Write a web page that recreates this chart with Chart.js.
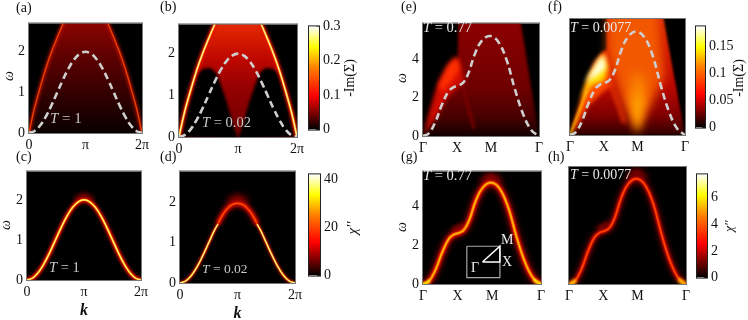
<!DOCTYPE html>
<html>
<head>
<meta charset="utf-8">
<style>
  html, body { margin: 0; padding: 0; background: #fff; }
  #page { position: relative; width: 748px; height: 320px; overflow: hidden; font-family: "Liberation Serif", serif; }
  canvas { position: absolute; }
  .note { position: absolute; white-space: nowrap; line-height: 1; }
</style>
<script src="https://cdn.jsdelivr.net/npm/chart.js@4"></script>
</head>
<body>
<div id="page"></div>
<script>
// Axis ticks
const kTicks = [0, 1, 2];
const kLabels = ["0", "π", "2π"];
const pathTicks = [0, 1, 2, 3.414];
const pathLabels = ["Γ", "X", "M", "Γ"];
const omegaTicksLeft = [0, 1, 2];
const omegaTicksRight = [0, 2, 4];
const barTicksB = [0, 0.1, 0.2, 0.3];
const barTicksD = [0, 20, 40];
const barTicksF = [0, 0.05, 0.1, 0.15];
const barTicksH = [0, 2, 4, 6];

// Dispersion curves
const band1d = [[0,0],[.1,.05],[.2,.19],[.3,.41],[.4,.69],[.5,1],[.6,1.31],[.7,1.59],[.8,1.81],[.9,1.95],[1,2],[1.1,1.95],[1.2,1.81],[1.3,1.59],[1.4,1.31],[1.5,1],[1.6,.69],[1.7,.41],[1.8,.19],[1.9,.05],[2,0]];
const band2d = [[0,0],[.166,.13],[.36,.72],[.556,1.63],[.75,2.33],[.9,2.55],[1.04,2.63],[1.19,2.8],[1.34,3.3],[1.53,4.3],[1.73,4.97],[1.97,5.22],[2.21,4.93],[2.46,3.97],[2.7,2.47],[2.95,1.13],[3.19,.3],[3.414,0]];

// Panel (a), (b): continuum edges
const edgeLeft = [[0,0],[.05,.33],[.1,.63],[.187,1.07],[.3,1.6],[.4,2],[.5,2.35],[.62,2.75]];
const edgeRight = [[2,0],[1.95,.33],[1.9,.63],[1.813,1.07],[1.7,1.6],[1.6,2],[1.5,2.35],[1.38,2.75]];
const coneHull = [[0,0],[.05,.33],[.1,.63],[.187,1.07],[.3,1.6],[.4,2],[.5,2.35],[.62,2.75],[1.38,2.75],[1.5,2.35],[1.6,2],[1.7,1.6],[1.813,1.07],[1.9,.63],[1.95,.33],[2,0]];
const lobeLeftB = [[0,0],[.187,1.07],[.3,1.5],[.4,1.63],[.53,1.66],[.62,1.55],[.67,1.41],[.81,.84],[.93,.23],[1,-.05]];
const lobeRightB = [[2,0],[1.813,1.07],[1.7,1.5],[1.6,1.63],[1.47,1.66],[1.38,1.55],[1.33,1.41],[1.19,.84],[1.07,.23],[1,-.05]];

// Panel (d): the sharp parts and the broad top of the mode
const lowLeftD = [[0,0],[.1,.05],[.2,.19],[.3,.41],[.4,.69],[.5,1],[.6,1.31],[.66,1.46]];
const lowRightD = [[2,0],[1.9,.05],[1.8,.19],[1.7,.41],[1.6,.69],[1.5,1],[1.4,1.31],[1.34,1.46]];
const archD = [[.66,1.46],[.7,1.59],[.8,1.81],[.9,1.94],[1,1.98],[1.1,1.94],[1.2,1.81],[1.3,1.59],[1.34,1.46]];
const topGlow1d = [[.85,1.95],[1,2.08],[1.15,1.95]];

// Panel (e) regions
const hullE = [[0,0],[.42,2.5],[.8,3.6],[1.02,4.05],[1.05,6],[2.87,6],[3.414,0]];
const lobeE = [[0,0],[.25,1.6],[.45,2.8],[.7,3.6],[.9,4.05],[1,4.15],[1.12,3.5],[1.22,2.9],[1,2.5],[.7,2],[.4,1]];
const coreE = [[.46,2.63],[.75,3.72],[1,4.1],[1.09,3.47],[.8,2.8],[.56,2.3]];
const streakE = [[1.15,2.7],[1.3,1.7],[1.5,.4]];

// Panel (f) regions
const hullF = [[0,0],[.3,1.5],[.6,3],[.9,4],[1.08,4.3],[1.09,6],[2.76,6],[3.414,0]];
const domeF = [[1.12,4.2],[1.12,6.2],[2.6,6.2],[2.8,3],[2.4,1.5],[2,.2],[1.6,1.5],[1.3,3]];
const valleyF = [[2,.05],[1.76,1.7],[1.78,3.2],[2.24,3.2],[2.24,1.7]];
const lobeF = [[0,0],[.42,2.35],[.72,3.65],[1.03,4.3],[1.2,3.3],[1.25,2.5],[1,2.2],[.55,1.5],[.2,.4]];
const yellowF = [[.2,1.1],[.55,2.95],[.98,4.1],[1.11,3.43],[1.03,2.76],[.64,2.5],[.34,1.76]];
const whiteF = [[.44,2.6],[.84,3.77],[1.01,4.02],[1.05,3.35],[.79,3],[.54,2.76]];
const streakF = [[1.13,2.8],[1.4,1.7],[1.62,.6]];
const rimF = [[0,0],[.25,1.1],[.5,2.25]];

// Panel (g) inset: box and Brillouin zone path
const insetBox = [[1.268,1.945],[2.225,1.945],[2.225,.327],[1.268,.327],[1.268,1.945]];
const insetPath = [[1.72,1.136],[2.225,1.136],[2.225,1.945],[1.72,1.136]];

// Ends of the band in (g), (h)
const endLeft = [[0,0],[.1,.05],[.2,.2]];
const endRight = [[3.414,0],[3.3,.08],[3.2,.25]];
const topGlow2d = [[1.75,5.1],[1.97,5.5],[2.2,5.1]];
const shoulder = [[.85,2.7],[1.04,2.85],[1.2,3]];

const hot = [[0,"#000"],[.33,"#f00"],[.6,"#ff8000"],[.8,"#ff0"],[1,"#fff"]];

const page = document.getElementById("page");

Chart.defaults.animation = false;
Chart.defaults.font.family = '"Liberation Serif", serif';
Chart.defaults.font.size = 14;
Chart.defaults.color = "#111";

// blur for single layers, has to sit before the filler so fills get it too
const blurLayer = {
  id: "blurLayer",
  beforeDatasetDraw(chart, args) {
    const b = chart.data.datasets[args.index].blur;
    if (b) chart.ctx.filter = `blur(${b}px)`;
  },
  afterDatasetDraw(chart) {
    chart.ctx.filter = "none";
  },
};
Chart.unregister(Chart.Filler);
Chart.register(blurLayer, Chart.Filler);

const heatFrame = {
  id: "heatFrame",
  beforeDatasetsDraw(chart) {
    const { left, top, width, height } = chart.chartArea;
    chart.ctx.fillStyle = "#000";
    chart.ctx.fillRect(left, top, width, height);
  },
  afterDraw(chart) {
    const { left, top, width, height } = chart.chartArea;
    chart.ctx.strokeStyle = "#777";
    chart.ctx.lineWidth = 1;
    chart.ctx.strokeRect(left - 0.5, top - 0.5, width + 1, height + 1);
  },
};

function vGrad(stops) {
  return (c) => {
    const chart = c.chart;
    if (!chart.chartArea) return stops[0][1];
    const y = chart.scales.y;
    const g = chart.ctx.createLinearGradient(0, y.getPixelForValue(0), 0, y.getPixelForValue(y.max));
    stops.forEach(([v, col]) => g.addColorStop(Math.min(v / y.max, 1), col));
    return g;
  };
}

function area(pts, color, blur) {
  return { data: pts.map(([x, y]) => ({ x, y })), fill: "shape", backgroundColor: color, borderWidth: 0, blur: blur || 0 };
}
function line(pts, color, width, blur, tension) {
  return { data: pts.map(([x, y]) => ({ x, y })), fill: false, borderColor: color, borderWidth: width, blur: blur || 0, tension: tension === undefined ? 0.4 : tension };
}
function dashed(pts) {
  return { data: pts.map(([x, y]) => ({ x, y })), fill: false, borderColor: "#cfcfcf", borderWidth: 2.6, borderDash: [7, 4], tension: 0.4 };
}

function addCanvas(l, t, w, h) {
  const c = document.createElement("canvas");
  c.width = w;
  c.height = h;
  c.style.left = l + "px";
  c.style.top = t + "px";
  c.style.width = w + "px";
  c.style.height = h + "px";
  page.appendChild(c);
  return c;
}

function fixedTicks(values, labels) {
  return {
    afterBuildTicks(s) { s.ticks = values.map((v) => ({ value: v })); },
    ticks: {
      autoSkip: false, maxRotation: 0, minRotation: 0,
      callback: (v) => (labels ? labels[values.indexOf(v)] : String(v)),
    },
  };
}

// rect = plot area in page pixels
function heatPanel(rect, o) {
  const [l, t, r, b] = rect.map(Math.round);
  const mLeft = 24, mRight = 16, mTop = 8, mBottom = o.xTitle ? 40 : 26;
  const canvas = addCanvas(l - mLeft, t - mTop, r - l + mLeft + mRight, b - t + mTop + mBottom);
  const xt = fixedTicks(o.xTicks, o.xLabels);
  const yt = fixedTicks(o.yTicks);
  const n = o.layers.length;
  new Chart(canvas, {
    type: "scatter",
    data: {
      datasets: o.layers.map((d, i) => ({ showLine: true, pointRadius: 0, order: n - i, ...d })),
    },
    options: {
      responsive: false,
      layout: { padding: { top: mTop, right: mRight, left: 0, bottom: 0 } },
      plugins: { legend: { display: false }, tooltip: { enabled: false } },
      scales: {
        x: {
          type: "linear", min: 0, max: o.xMax,
          grid: { display: false, drawTicks: false }, border: { display: false },
          title: o.xTitle ? { display: true, text: o.xTitle, padding: 0, font: { size: 16, style: "italic", weight: "bold" } } : { display: false },
          afterFit(s) { s.height = mBottom; },
          afterBuildTicks: xt.afterBuildTicks,
          ticks: { ...xt.ticks, padding: 4 },
        },
        y: {
          type: "linear", min: 0, max: o.yMax,
          grid: { display: false, drawTicks: false }, border: { display: false },
          afterFit(s) { s.width = mLeft; },
          afterBuildTicks: yt.afterBuildTicks,
          ticks: { ...yt.ticks, padding: 4 },
        },
      },
    },
    plugins: [heatFrame],
  });
}

function colorBar(rect, max, values) {
  const [l, t, r, b] = rect.map(Math.round);
  const mRight = 34, mTop = 8, mBottom = 8;
  const canvas = addCanvas(l, t - mTop, r - l + mRight, b - t + mTop + mBottom);
  const yt = fixedTicks(values);
  new Chart(canvas, {
    type: "bar",
    data: {
      labels: [""],
      datasets: [{
        data: [max], barPercentage: 1, categoryPercentage: 1,
        backgroundColor: (c) => {
          const ch = c.chart;
          if (!ch.chartArea) return "#000";
          const g = ch.ctx.createLinearGradient(0, ch.chartArea.bottom, 0, ch.chartArea.top);
          hot.forEach(([p, col]) => g.addColorStop(p, col));
          return g;
        },
      }],
    },
    options: {
      responsive: false,
      layout: { padding: { top: mTop, bottom: mBottom, left: 1, right: 0 } },
      plugins: { legend: { display: false }, tooltip: { enabled: false } },
      scales: {
        x: { display: false },
        y: {
          position: "right", min: 0, max: max,
          grid: { drawOnChartArea: false, drawTicks: true, tickLength: -3, color: "#222" },
          border: { display: false },
          afterFit(s) { s.width = mRight; },
          afterBuildTicks: yt.afterBuildTicks,
          ticks: { ...yt.ticks, padding: 7 },
        },
      },
    },
    plugins: [{
      id: "barFrame",
      afterDraw(chart) {
        const a = chart.chartArea;
        chart.ctx.strokeStyle = "#222";
        chart.ctx.lineWidth = 1;
        chart.ctx.strokeRect(a.left - 0.5, a.top - 0.5, a.width + 1, a.height + 1);
      },
    }],
  });
}

function note(html, x, y, size, color) {
  const d = document.createElement("div");
  d.className = "note";
  d.innerHTML = html;
  d.style.left = x + "px";
  d.style.top = y - size / 2 + "px";
  d.style.fontSize = size + "px";
  d.style.color = color || "#111";
  page.appendChild(d);
}

// axis titles that read bottom to top, x and y are the centre
function sideTitle(html, x, y, size) {
  const d = document.createElement("div");
  d.className = "note";
  d.innerHTML = html;
  d.style.left = x + "px";
  d.style.top = y + "px";
  d.style.fontSize = size + "px";
  d.style.color = "#111";
  d.style.transform = "translate(-50%, -50%) rotate(-90deg)";
  page.appendChild(d);
}

heatPanel([28.5, 19, 142, 133], {
  xMax: 2, yMax: 2.7, xTicks: kTicks, xLabels: kLabels, yTicks: omegaTicksLeft,
  layers: [
    area(coneHull, vGrad([[0,"#0a0000"],[.8,"#2c0000"],[1.8,"#5a0000"],[2.7,"#8a0500"]]), 0.8),
    line(edgeLeft, "rgba(200,20,0,.75)", 4, 1.5),
    line(edgeRight, "rgba(200,20,0,.75)", 4, 1.5),
    line(edgeLeft, "#f04000", 1.3, 0.4),
    line(edgeRight, "#f04000", 1.3, 0.4),
    dashed(band1d),
  ],
});

heatPanel([179, 20, 296.7, 136.7], {
  xMax: 2, yMax: 2.7, xTicks: kTicks, xLabels: kLabels, yTicks: omegaTicksLeft,
  layers: [
    area(coneHull, vGrad([[0,"#6e0000"],[1.2,"#960000"],[1.9,"#c00800"],[2.7,"#e42800"]]), 0.6),
    area(lobeLeftB, "#000", 1.5),
    area(lobeRightB, "#000", 1.5),
    line(edgeLeft, "#e81000", 4.5, 1.6),
    line(edgeRight, "#e81000", 4.5, 1.6),
    line(edgeLeft, "#ffb000", 2.2, 0.7),
    line(edgeRight, "#ffb000", 2.2, 0.7),
    line(edgeLeft, "#fffde0", 0.9, 0.3),
    line(edgeRight, "#fffde0", 0.9, 0.3),
    dashed(band1d),
  ],
});

heatPanel([27, 167, 141, 280], {
  xMax: 2, yMax: 2.71, xTicks: kTicks, xLabels: kLabels, yTicks: omegaTicksLeft, xTitle: "k",
  layers: [
    line(topGlow1d, "#8a0000", 7, 2.5),
    line(band1d, "#7a0000", 5.5, 1.5),
    line(band1d, "#f01000", 3.6, 0.8),
    line(band1d, "#ffc000", 2, 0.4),
    line(band1d, "#ffffb0", 0.9, 0.2),
  ],
});

heatPanel([180, 167.3, 295, 282.7], {
  xMax: 2, yMax: 2.77, xTicks: kTicks, xLabels: kLabels, yTicks: omegaTicksLeft, xTitle: "k",
  layers: [
    line(topGlow1d, "#900000", 9, 3),
    line(archD, "#800000", 7, 2),
    line(archD, "#e01000", 4, 1),
    line(archD, "#ff5000", 1.4, 0.5),
    line(lowLeftD, "#d01000", 3.4, 0.8),
    line(lowRightD, "#d01000", 3.4, 0.8),
    line(lowLeftD, "#ffc000", 1.8, 0.3),
    line(lowRightD, "#ffc000", 1.8, 0.3),
    line(lowLeftD, "#ffffe0", 0.8, 0.2),
    line(lowRightD, "#ffffe0", 0.8, 0.2),
  ],
});

heatPanel([422.7, 19, 539.3, 136], {
  xMax: 3.414, yMax: 5.88, xTicks: pathTicks, xLabels: pathLabels, yTicks: omegaTicksRight,
  layers: [
    area(hullE, vGrad([[0,"#140000"],[1,"#480000"],[2.5,"#6e0000"],[5.9,"#8c0000"]]), 1.5),
    area(lobeE, "#d40c00", 2.5),
    area(coreE, "#ff3000", 2.5),
    line(streakE, "#7a0000", 3, 1.5),
    dashed(band2d),
  ],
});

heatPanel([569.7, 19.3, 685.3, 135], {
  xMax: 3.414, yMax: 5.85, xTicks: pathTicks, xLabels: pathLabels, yTicks: [],
  layers: [
    area(hullF, vGrad([[0,"#300000"],[1,"#800000"],[2.5,"#be0800"],[5.9,"#e02800"]]), 1.2),
    area(domeF, "#f25800", 5),
    area(valleyF, vGrad([[0,"#ffc000"],[1.5,"#ffa000"],[3.2,"#f56800"]]), 4),
    area(lobeF, "#ff4800", 2),
    area(yellowF, "#ffe000", 2.5),
    area(whiteF, "#ffffe0", 2.5),
    line(streakF, "#e03000", 4, 2),
    line(rimF, "#ffc000", 2, 1),
    dashed(band2d),
  ],
});

heatPanel([423, 167, 540.7, 284.3], {
  xMax: 3.414, yMax: 5.8, xTicks: pathTicks, xLabels: pathLabels, yTicks: omegaTicksRight,
  layers: [
    line(topGlow2d, "#a00000", 9, 3),
    line(shoulder, "#a00000", 7, 2),
    line(band2d, "#6a0000", 9, 2.5),
    line(band2d, "#e81000", 5, 1.2),
    line(band2d, "#ff8000", 2.6, 0.7),
    line(band2d, "#ffc800", 1, 0.4),
    line(endLeft, "#ffe000", 3, 1),
    line(endRight, "#ffe000", 3, 1),
    line(insetBox, "#a8a8a8", 1.2, 0, 0),
    line(insetPath, "#fff", 1.5, 0, 0),
  ],
});

heatPanel([569.3, 167, 686.3, 284], {
  xMax: 3.414, yMax: 5.8, xTicks: pathTicks, xLabels: pathLabels, yTicks: [],
  layers: [
    line(topGlow2d, "#900000", 9, 3),
    line(shoulder, "#a00000", 6, 2),
    line(band2d, "#500000", 8, 2.5),
    line(band2d, "#d00800", 4.2, 1.2),
    line(band2d, "#ff4000", 1.9, 0.7),
    line(endLeft, "#ffc000", 4, 1.5),
    line(endRight, "#ffc000", 4, 1.5),
  ],
});

colorBar([308, 19.3, 318.7, 136.7], 0.3, barTicksB);
colorBar([308, 167, 320, 283], 42, barTicksD);
colorBar([694.7, 19, 704.7, 135], 0.187, barTicksF);
colorBar([695.7, 167, 706.7, 284.7], 7.74, barTicksH);

// axis titles
sideTitle("<i>ω</i>", 9, 76, 14);
sideTitle("<i>ω</i>", 6, 225, 14);
sideTitle("<i>ω</i>", 402, 78, 14);
sideTitle("<i>ω</i>", 402, 227, 14);
sideTitle("-Im(Σ)", 350, 78, 14);
sideTitle("-Im(Σ)", 739, 78, 14);
sideTitle("<i>χ''</i>", 352, 228, 15);
sideTitle("<i>χ''</i>", 728, 226, 13);

// panel letters
note("(a)", 16, 8, 14);
note("(b)", 160, 7, 14);
note("(c)", 16, 157, 14);
note("(d)", 160, 157, 14);
note("(e)", 401, 7, 14);
note("(f)", 548, 7, 14);
note("(g)", 401, 157, 14);
note("(h)", 548, 157, 14);

// temperatures
note("<i>T</i> = 1", 50, 118, 15, "#c8c8c8");
note("<i>T</i> = 0.02", 202, 122, 14.5, "#c8c8c8");
note("<i>T</i> = 1", 49, 267, 14.5, "#c8c8c8");
note("<i>T</i> = 0.02", 202, 269, 13.5, "#c8c8c8");
note("<i>T</i> = 0.77", 423, 27, 14.5, "#e8e8e8");
note("<i>T</i> = 0.0077", 570, 28, 14, "#e8e8e8");
note("<i>T</i> = 0.77", 423, 175, 14.5, "#e8e8e8");
note("<i>T</i> = 0.0077", 570, 175, 14, "#e8e8e8");

// inset labels
note("M", 501, 240, 14, "#eee");
note("X", 502, 262, 14, "#eee");
note("Γ", 471, 268, 14, "#eee");
</script>
</body>
</html>
